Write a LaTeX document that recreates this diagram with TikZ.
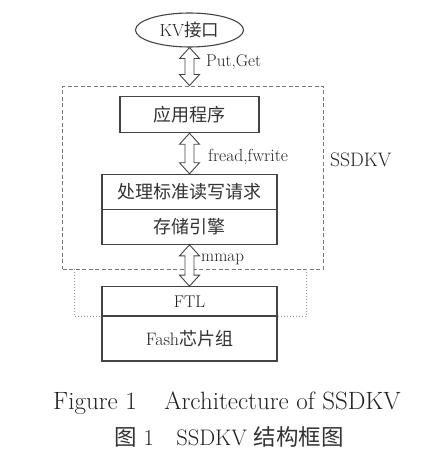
\documentclass[tikz,border=0pt]{standalone}
\usepackage{fontspec}
\newfontfamily\cjk{Noto Sans CJK SC}
\usetikzlibrary{shapes.geometric,calc}
\definecolor{boxline}{HTML}{444444}
\definecolor{txt}{HTML}{222222}
\definecolor{cjktxt}{HTML}{333333}
\definecolor{dashgray}{HTML}{777777}
\definecolor{dotgray}{HTML}{999999}
\tikzset{
  boxstyle/.style={draw=boxline,line width=1.1pt,fill=white,minimum width=175pt,inner sep=0pt,text=txt,font=\fontsize{18}{21}\selectfont},
  ovalstyle/.style={ellipse,draw=boxline,line width=1.1pt,minimum width=108pt,minimum height=34pt,inner sep=0pt,text=txt,font=\fontsize{17.5}{20}\selectfont},
  lbl/.style={anchor=west,inner sep=0pt,text=txt,font=\fontsize{17.5}{20}\selectfont},
  dblarrow/.style={draw=boxline,line width=0.9pt,fill=white,line join=miter},
  dashbox/.style={draw=dashgray,line width=1pt,dash pattern=on 4pt off 2.5pt,minimum width=260.6pt,minimum height=183.3pt,inner sep=0pt},
  dotline/.style={draw=dotgray,line width=1pt,dotted},
  captext/.style={text=txt,inner sep=0pt}
}
\newcommand\zh[1]{{\cjk\color{cjktxt}#1}}
\newcommand\dblarr[2]{\draw[dblarrow] let \p1=(#1), \p2=(#2) in
  (\x1,\y1) -- ++(10pt,-11pt) -- ++(-5.5pt,0pt) -- (\x1+4.5pt,\y2+11pt) -- ++(5.5pt,0pt) --
  (\x1,\y2) -- ++(-10pt,11pt) -- ++(5.5pt,0pt) -- (\x1-4.5pt,\y1-11pt) -- ++(-5.5pt,0pt) -- cycle;}
\begin{document}
\begin{tikzpicture}[x=1pt,y=-1pt]
\useasboundingbox (0,0) rectangle (431,462);
% dashed SSDKV frame
\node[dashbox] (ssd) at (193,177.7) {};
\node[lbl,font=\fontsize{19.5}{22}\selectfont] (ssdlbl) at (330,160) {SSDKV};
% dotted frame around FTL
\coordinate (dl1) at (74,269.3);
\coordinate (dr1) at (306.7,269.3);
% nodes
\node[ovalstyle] (kv) at (189.5,30) {KV\zh{接口}};
\node[boxstyle,minimum width=139pt,minimum height=36pt] (app) at (189.5,114.7) {\zh{应用程序}};
\node[boxstyle,minimum height=35pt] (proc) at (189.5,191.8) {\zh{处理标准读写请求}};
\node[boxstyle,minimum height=35pt] (eng) at (189.5,226.8) {\zh{存储引擎}};
\node[boxstyle,minimum height=29.3pt,font=\fontsize{17}{20}\selectfont] (ftl) at (189.5,301.35) {FTL};
\node[boxstyle,minimum height=45pt] (fash) at (189.5,338.5) {Fash\zh{芯片组}};
\draw[dotline] (dl1) |- (ftl.south west);
\draw[dotline] (dr1) |- (ftl.south east);
% arrows
\dblarr{kv.south}{ssd.north -| kv.south}
\dblarr{app.south}{proc.north}
\dblarr{eng.south}{ftl.north}
% labels
\node[lbl,font=\fontsize{17}{20}\selectfont] (putget) at (206,62) {Put,Get};
\node[lbl] (frw) at (208,157) {fread,fwrite};
\node[lbl,font=\fontsize{17}{20}\selectfont] (mmap) at (201,259) {mmap};
% captions
\node[captext,font=\fontsize{25}{30}\selectfont] (cap1) at (227,403) {Figure 1\hspace{1.1em}Architecture of SSDKV};
\node[captext,font=\fontsize{22.5}{27}\selectfont] (cap2) at (229,437) {\zh{图} 1\hspace{1em}SSDKV \zh{结构框图}};
\end{tikzpicture}
\end{document}
